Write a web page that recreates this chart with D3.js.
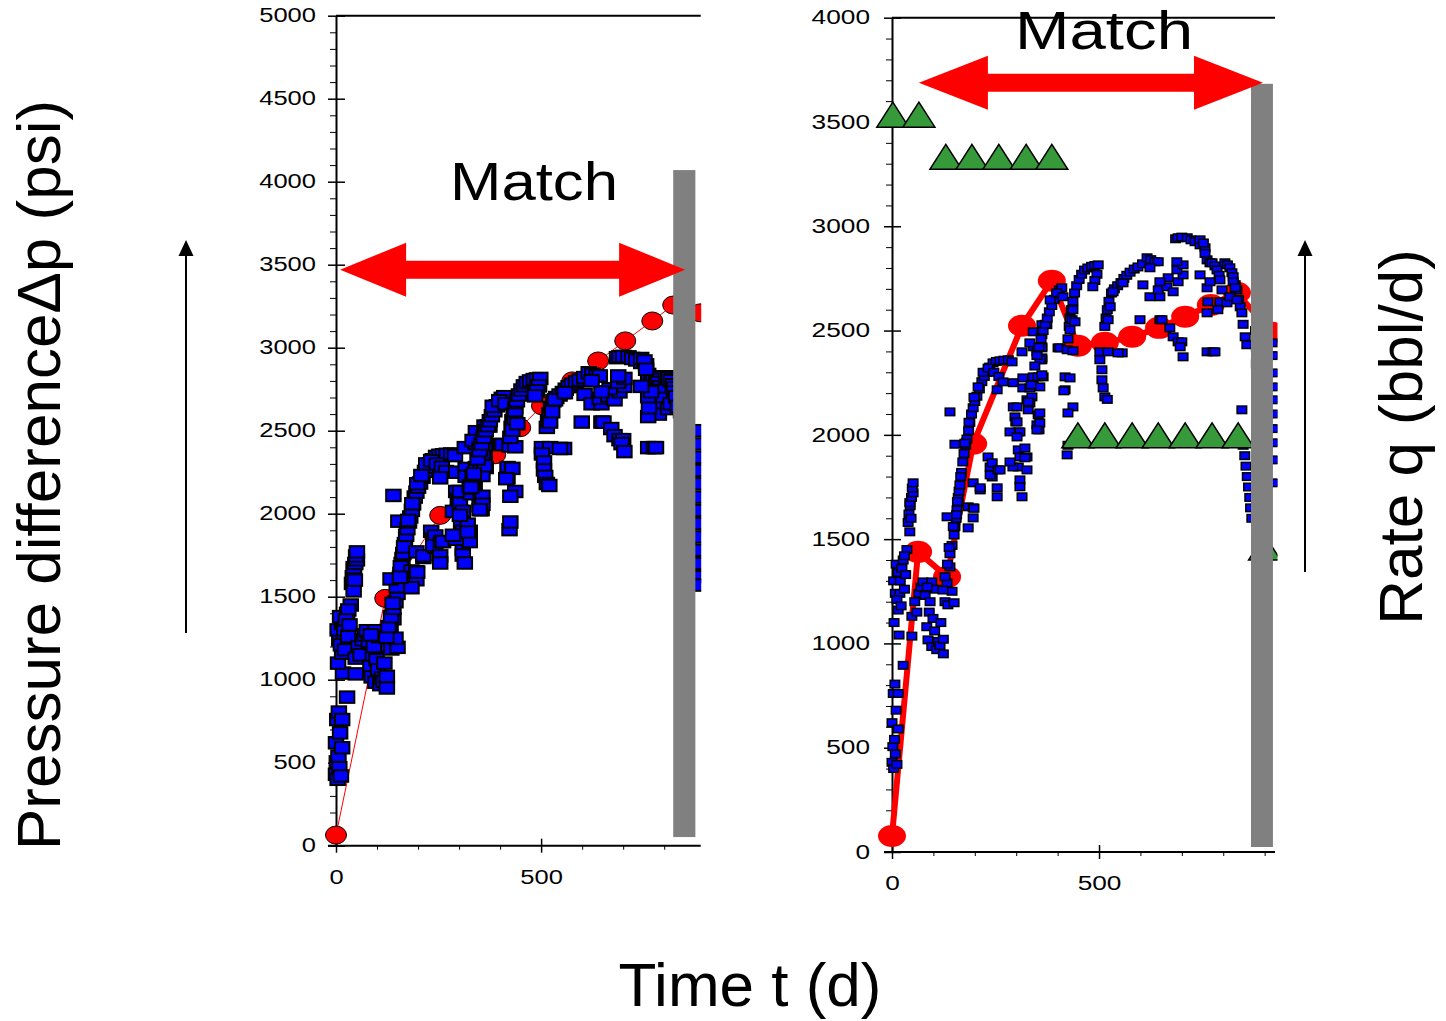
<!DOCTYPE html>
<html>
<head>
<meta charset="utf-8">
<script src="https://cdn.jsdelivr.net/npm/d3@7"></script>
<style>
  body { margin: 0; background: #fff; }
  svg { display: block; }
  text { font-family: "Liberation Sans", Arial, sans-serif; fill: #000; }
</style>
</head>
<body>
<svg id="chart"></svg>
<script>
// measured pressure difference (days, psi) - same data shown in both panels
var pressureObs = [
  [0,620],[2,505],[0,430],[4,400],[8,470],[12,420],[6,540],[3,760],[7,805],[15,760],[27,895],[15,590],[10,680],
  [17,1040],[5,1100],[15,1160],[8,1240],[19,1240],[4,1300],[15,1340],[10,1380],[27,1400],[20,1300],[36,1450],
  [30,1420],[24,1360],[12,1210],[22,1180],[30,1260],[33,1330],
  [39,1580],[43,1535],[41,1620],[44,1660],[43,1675],[47,1700],[51,1722],[49,1745],[51,1770],[46,1600],
  [48,1035],[48,1130],[55,1200],[60,1150],[65,1240],[70,1270],[75,1295],[80,1230],[84,1080],[87,1017],[90,1150],
  [96,985],[96,1295],[99,1120],[103,1060],[108,970],[112,1010],[116,990],[124,950],[124,1020],[118,1100],[128,1200],
  [133,1290],[135,1185],[140,1367],[150,1195],[145,1250],[92,1200],[105,1260],[85,1270],
  [140,2110],[152,1955],
  [123,1256],[128,1320],[134,1380],[140,1430],[145,1470],[150,1520],[152,1560],[155,1600],[157,1640],[160,1700],
  [162,1730],[164,1760],[168,1820],[171,1870],[174,1910],[178,1950],[181,1980],[185,2020],[188,2060],[192,2100],
  [196,2130],[200,2160],[205,2185],[211,2220],[217,2255],[223,2280],[229,2300],[236,2325],[244,2345],[252,2352],
  [261,2355],[270,2358],[281,2360],[290,2350],
  [138,1460],[148,1560],[158,1680],[166,1800],[176,1960],[186,2060],[198,2180],[208,2230],[220,2300],[232,2320],
  [246,2300],[258,2280],[268,2254],[254,2216],
  [133,1607],[184,1655],[196,1602],[184,1554],[196,1650],[196,1770],[213,1736],[213,1746],[232,1894],[237,1846],
  [242,1866],[242,1798],[237,1808],[256,1832],[261,1832],[254,1746],[254,1703],[198,1648],[156,1617],
  [293,2250],[293,2134],[297,2086],[299,2062],[305,2014],[285,2014],[305,1928],[309,1894],[305,1846],[309,1784],
  [309,1751],[314,1703],[326,1894],[326,1832],[292,1846],[285,1870],[321,1937],[321,1890],[302,2134],[302,2062],
  [309,2014],[302,1990],
  [316,2273],[316,2225],[326,2168],[329,2120],[341,2278],[333,2225],[338,2182],[333,2153],[353,2096],[350,2048],
  [355,2024],[357,2105],[357,2057],[350,2024],[329,2158],[341,2240],[353,2278],
  [314,2398],[341,2422],[341,2494],[362,2480],[362,2528],[374,2528],[333,2441],[350,2398],[362,2360],[365,2278],
  [357,2230],[362,2422],[362,2369],[362,2288],[357,2360],[362,2417],
  [336,2240],[345,2330],[350,2380],[355,2420],[360,2460],[365,2500],[370,2530],[375,2560],[380,2590],[386,2620],
  [392,2650],[398,2675],[404,2695],[410,2705],[382,2647],[398,2681],[413,2662],
  [401,2417],[406,2417],[423,2408],[437,2403],[418,2278],[418,2216],[437,2134],[425,2105],[423,1904],[430,2273],
  [415,2211],[425,1950],
  [425,2460],[428,2520],[430,2560],[433,2600],[437,2640],[441,2680],[446,2715],[452,2745],[458,2770],[465,2790],
  [473,2800],[482,2808],[490,2812],[498,2815],[495,2770],[490,2740],[485,2710],[437,2600],[435,2552],[430,2503],
  [442,2542],
  [502,2398],[522,2398],[556,2393],[546,2393],[502,2360],[507,2312],[507,2264],[510,2225],[514,2182],[520,2170],
  [514,2520],[517,2560],[520,2600],[524,2640],[530,2680],[537,2700],[545,2715],[553,2730],[560,2750],[567,2765],
  [575,2780],[585,2795],[594,2805],[605,2820],[616,2849],[625,2840],[635,2830],[643,2830],
  [522,2552],[527,2614],[534,2686],[558,2729],[606,2719],[623,2662],[647,2662],[599,2552],[647,2552],[643,2695],
  [664,2710],[679,2686],[691,2734],[703,2767],[667,2753],[688,2791],[703,2815],[688,2830],[647,2734],[623,2801],
  [652,2552],[671,2513],[679,2470],[691,2446],[700,2446],[696,2422],[703,2374],[761,2398],[775,2398],[780,2398],
  [685,2940],[691,2945],[700,2948],[713,2945],[722,2935],[732,2926],[744,2911],[756,2897],[761,2839],[768,2825],
  [773,2825],[780,2810],[785,2791],[790,2765],[792,2743],[797,2695],[792,2638],[787,2600],[761,2585],[763,2638],
  [761,2705],[768,2734],[744,2767],[744,2935],[752,2920],[756,2870],
  [804,2825],[810,2815],[816,2801],[821,2777],[824,2758],[829,2720],[833,2695],[837,2650],[841,2614],[845,2585],
  [848,2530],[853,2470],[857,2432],[809,2633],[816,2662],[824,2734],[829,2705],[833,2647],[845,2120],
  [848,1950],[852,1900],[855,1850],[858,1800],[861,1750],[864,1700],[866,1650],[869,1600],
  [878,2500],[880,2420],[880,2340],[881,2260],[881,2180],[882,2100],[882,2020],[883,1940],[883,1860],[884,1780],
  [884,1700],[885,1620],[885,1570],
  [919,2441],[920,2380],[921,2297],[921,2230],[921,2168],[921,2100],[921,2030],[921,1962],[921,1880],[921,1770]
];

// simulated pressure, left panel
var simLeft = [[0,64],[120,1490],[254,1990],[388,2355],[449,2518],[502,2650],[576,2800],[639,2920],
  [705,3041],[771,3161],[822,3257],[888,3210]];

// simulated pressure, right panel
var simRight = [[0,77],[63,1439],[133,1319],[196,1957],[314,2523],[386,2739],[449,2427],[514,2441],
  [580,2470],[645,2513],[708,2566],[770,2623],[833,2681],[918,2489]];

// rate q (bbl/d), right panel
var rateRight = [[2,3535],[65,3535],[130,3333],[193,3333],[258,3333],[324,3333],[386,3333],
  [449,1998],[514,1998],[580,1998],[643,1998],[708,1998],[773,1998],[836,1998],[900,1460]];

// "Match" span [t start, t end, level] and shut-in bar [t0, t1, p0, p1]
var matchLeft = [10, 851, 3470];
var matchRight = [65, 896, 3688];
var barLeft = [822, 876, 52, 4070];
var barRight = [867, 920, 24, 3683];

var yTicksLeft = [0, 500, 1000, 1500, 2000, 2500, 3000, 3500, 4000, 4500, 5000];
var yTicksRight = [0, 500, 1000, 1500, 2000, 2500, 3000, 3500, 4000];
var xTicks = [0, 500];

var svg = d3.select("#chart")
    .attr("width", 1446)
    .attr("height", 1021);

function arrowPoints(x0, x1, yc, hl, hh, hs) {
  return [[x0, yc], [x0 + hl, yc - hh], [x0 + hl, yc - hs], [x1 - hl, yc - hs], [x1 - hl, yc - hh],
    [x1, yc], [x1 - hl, yc + hh], [x1 - hl, yc + hs], [x0 + hl, yc + hs], [x0 + hl, yc + hh]];
}

function drawPanel(p) {
  var x = d3.scaleLinear().domain([0, p.xMax]).range([p.left, p.right]);
  var y = d3.scaleLinear().domain([0, p.yMax]).range([p.bottom, p.top]);

  svg.append("clipPath").attr("id", "clip-" + p.id)
    .append("rect")
      .attr("x", p.left - 20)
      .attr("y", p.top - 40)
      .attr("width", p.right - p.left + 20 + p.clipPad)
      .attr("height", p.bottom - p.top + 60);

  // minor ticks
  var minorY = d3.range(0, p.yMax + 1, 100).filter(function(d) { return d % 500 !== 0; });
  svg.append("g")
      .attr("transform", "translate(" + p.left + ",0)")
      .call(d3.axisLeft(y).tickValues(minorY).tickSize(6).tickFormat(""))
      .call(function(g) { g.select(".domain").remove(); });

  var minorX = d3.range(100, p.xMax, 100).filter(function(d) { return d % 500 !== 0; });
  svg.append("g")
      .attr("transform", "translate(0," + p.bottom + ")")
      .call(d3.axisBottom(x).tickValues(minorX).tickSize(4).tickFormat(""))
      .call(function(g) { g.select(".domain").remove(); });

  // major y axis
  var ya = svg.append("g")
      .attr("transform", "translate(" + p.left + ",0)")
      .call(d3.axisLeft(y).tickValues(p.yTicks).tickFormat(d3.format("d"))
        .tickSizeInner(8).tickSizeOuter(0).tickPadding(p.labelPad));
  ya.select(".domain").attr("stroke-width", 2);
  ya.selectAll(".tick line").attr("x1", 9).attr("stroke-width", 1.5);
  ya.selectAll(".tick text")
      .style("font-size", "19.5px")
      .attr("textLength", function(d) { return String(d).length * p.digitW; })
      .attr("lengthAdjust", "spacingAndGlyphs");

  // x axis
  svg.append("line")
      .attr("x1", p.left - 8).attr("x2", p.right)
      .attr("y1", p.bottom).attr("y2", p.bottom)
      .attr("stroke", "#000").attr("stroke-width", 2);
  var xa = svg.append("g")
      .attr("transform", "translate(0," + p.bottom + ")")
      .call(d3.axisBottom(x).tickValues(xTicks).tickFormat(d3.format("d"))
        .tickSizeInner(7).tickSizeOuter(0).tickPadding(17));
  xa.select(".domain").remove();
  xa.selectAll(".tick line").attr("y1", -7).attr("stroke-width", 1.5);
  xa.selectAll(".tick text")
      .style("font-size", "19.5px")
      .attr("textLength", function(d) { return String(d).length * p.digitW; })
      .attr("lengthAdjust", "spacingAndGlyphs");

  // top frame line
  svg.append("line")
      .attr("x1", p.left).attr("x2", p.right)
      .attr("y1", p.top).attr("y2", p.top)
      .attr("stroke", "#000").attr("stroke-width", 2);

  var plot = svg.append("g").attr("clip-path", "url(#clip-" + p.id + ")");

  // simulated pressure
  plot.append("path")
      .datum(p.sim)
      .attr("fill", "none")
      .attr("stroke", "#ff0000")
      .attr("stroke-width", p.simWidth)
      .attr("d", d3.line().x(function(d) { return x(d[0]); }).y(function(d) { return y(d[1]); }));
  plot.selectAll(".sim")
      .data(p.sim)
    .enter().append("ellipse")
      .attr("cx", function(d) { return x(d[0]); })
      .attr("cy", function(d) { return y(d[1]); })
      .attr("rx", p.simRx)
      .attr("ry", p.simRy)
      .attr("fill", "#ff0000")
      .attr("stroke", p.simStroke)
      .attr("stroke-width", 1);

  // measured pressure
  plot.selectAll(".obs")
      .data(pressureObs)
    .enter().append("rect")
      .attr("x", function(d) { return x(d[0]) - p.sqW / 2; })
      .attr("y", function(d) { return y(d[1]) - p.sqH / 2; })
      .attr("width", p.sqW)
      .attr("height", p.sqH)
      .attr("fill", "#0000ff")
      .attr("stroke", "#000")
      .attr("stroke-width", p.sqStroke);

  // rate
  if (p.rate) {
    plot.selectAll(".rate")
        .data(p.rate)
      .enter().append("path")
        .attr("d", function(d) {
          var cx = x(d[0]), cy = y(d[1]);
          return "M" + (cx - 16) + "," + (cy + 12.5) + "L" + cx + "," + (cy - 12.5) +
            "L" + (cx + 16) + "," + (cy + 12.5) + "Z";
        })
        .attr("fill", "#36993a")
        .attr("stroke", "#000")
        .attr("stroke-width", 1.5);
  }

  // shut-in bar
  svg.append("rect")
      .attr("x", x(p.bar[0]))
      .attr("width", x(p.bar[1]) - x(p.bar[0]))
      .attr("y", y(p.bar[3]))
      .attr("height", y(p.bar[2]) - y(p.bar[3]))
      .attr("fill", "#808080");

  // match arrow
  svg.append("polygon")
      .attr("points", arrowPoints(x(p.match[0]), x(p.match[1]), y(p.match[2]), p.headLen, 27, 9).join(" "))
      .attr("fill", "#ff0000");

  svg.append("text")
      .attr("x", p.matchX)
      .attr("y", p.matchY)
      .attr("text-anchor", "middle")
      .attr("textLength", p.matchLen)
      .attr("lengthAdjust", "spacingAndGlyphs")
      .style("font-size", "53px")
      .text("Match");
}

drawPanel({
  id: "left", left: 336, right: 700.7, top: 15.7, bottom: 845.7, xMax: 889, yMax: 5000, clipPad: 0.5,
  yTicks: yTicksLeft, labelPad: 12, digitW: 14.2,
  sim: simLeft, simWidth: 1, simRx: 10.5, simRy: 9, simStroke: "#000",
  sqW: 14.5, sqH: 11.5, sqStroke: 2,
  bar: barLeft, match: matchLeft, headLen: 66, matchX: 534, matchY: 200, matchLen: 168
});

drawPanel({
  id: "right", left: 892, right: 1275, top: 17.7, bottom: 852, xMax: 925, yMax: 4000, clipPad: 2.5,
  yTicks: yTicksRight, labelPad: 14, digitW: 14.6,
  rate: rateRight,
  sim: simRight, simWidth: 6, simRx: 14, simRy: 11, simStroke: "none",
  sqW: 9.5, sqH: 7.5, sqStroke: 1.5,
  bar: barRight, match: matchRight, headLen: 69, matchX: 1104, matchY: 49, matchLen: 178
});

// vertical pointer arrows next to the axis titles
[[186, 633], [1305, 572]].forEach(function(a) {
  svg.append("line")
      .attr("x1", a[0]).attr("x2", a[0])
      .attr("y1", a[1]).attr("y2", 252)
      .attr("stroke", "#000").attr("stroke-width", 2);
  svg.append("path")
      .attr("d", "M" + (a[0] - 7.5) + ",256L" + a[0] + ",240L" + (a[0] + 7.5) + ",256Z")
      .attr("fill", "#000");
});

// axis titles
svg.append("text")
    .attr("transform", "translate(60,475) rotate(-90)")
    .attr("text-anchor", "middle")
    .style("font-size", "62px")
    .text("Pressure differenceΔp (psi)");

svg.append("text")
    .attr("transform", "translate(1422,437) rotate(-90)")
    .attr("text-anchor", "middle")
    .style("font-size", "62px")
    .text("Rate q (bbl/d)");

svg.append("text")
    .attr("x", 750)
    .attr("y", 1006)
    .attr("text-anchor", "middle")
    .style("font-size", "62px")
    .text("Time t (d)");
</script>
</body>
</html>
